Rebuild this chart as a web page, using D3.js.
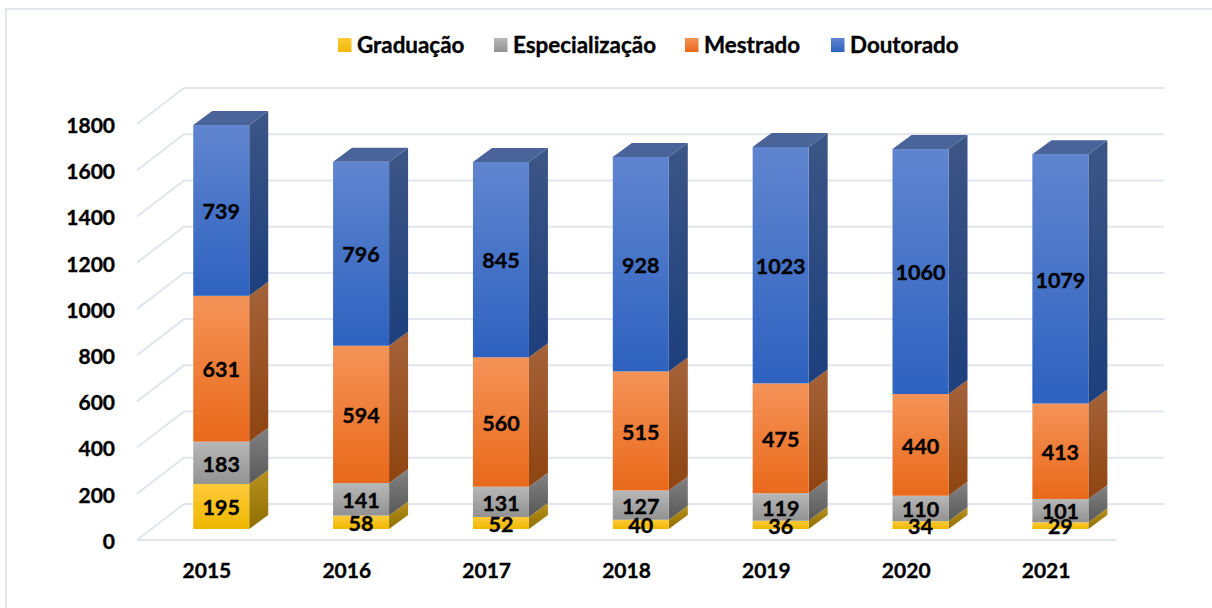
<!DOCTYPE html>
<html>
<head>
<meta charset="utf-8">
<script src="https://cdn.jsdelivr.net/npm/d3@7"></script>
<style>
  html, body { margin: 0; padding: 0; background: #fff; overflow: hidden; }
  text { font-family: Lato, "Open Sans", sans-serif; font-weight: 700; fill: #000; stroke: #000; stroke-width: 0.35px; }
</style>
</head>
<body>
<script>
var anos = ["2015", "2016", "2017", "2018", "2019", "2020", "2021"];
var niveis = ["Graduação", "Especialização", "Mestrado", "Doutorado"];
var graduacao = [195, 58, 52, 40, 36, 34, 29];
var especializacao = [183, 141, 131, 127, 119, 110, 101];
var mestrado = [631, 594, 560, 515, 475, 440, 413];
var doutorado = [739, 796, 845, 928, 1023, 1060, 1079];
var yTicks = [0, 200, 400, 600, 800, 1000, 1200, 1400, 1600, 1800];

var valores = [graduacao, especializacao, mestrado, doutorado];

// face colours per level: front top/bottom, side top/bottom, top face
var cores = [
  { f: ["#ffca3a", "#eeb800"], s: ["#b8921f", "#8f6e00"], t: "#c39a14" },
  { f: ["#b8b8b8", "#929292"], s: ["#828282", "#585858"], t: "#8a8a8a" },
  { f: ["#f49358", "#e9691a"], s: ["#a56239", "#8f4410"], t: "#a3643c" },
  { f: ["#6085cf", "#2e62bf"], s: ["#3c5686", "#1d3f7c"], t: "#4a6499" }
];

var width = 1212, height = 608;
var gridColor = "#e2e6ec";

var svg = d3.select("body").append("svg")
  .attr("width", width).attr("height", height);

var defs = svg.append("defs");
cores.forEach(function (c, i) {
  [["f", c.f], ["s", c.s]].forEach(function (p) {
    var g = defs.append("linearGradient")
      .attr("id", p[0] + i)
      .attr("x1", 0).attr("y1", 0).attr("x2", 0).attr("y2", 1);
    g.append("stop").attr("offset", "0%").attr("stop-color", p[1][0]);
    g.append("stop").attr("offset", "100%").attr("stop-color", p[1][1]);
  });
});

// chart frame, only the top and left edges are in view
svg.append("path")
  .attr("d", "M6,608V9H1212")
  .attr("fill", "none").attr("stroke", "#e4e8ee").attr("stroke-width", 2);

var x = d3.scaleBand().domain(anos).range([137, 1116]);
var y = d3.scaleLinear().domain([0, 1800]).range([540, 124]);

var fundoDx = 47, fundoDy = 36;   // depth of the floor
var barDx = 19, barDy = 14;       // depth of one bar
var barW = 56;
var barOffX = 14.3, barOffY = 11; // front face of bar sits inside the floor

// walls
var grid = svg.append("g").attr("fill", "none")
  .attr("stroke", gridColor).attr("stroke-width", 2);
grid.selectAll("path").data(yTicks).enter().append("path")
  .attr("d", function (d) {
    var yy = y(d);
    var r = "M" + x.range()[0] + "," + yy +
      "L" + (x.range()[0] + fundoDx) + "," + (yy - fundoDy) +
      "H" + (x.range()[1] + fundoDx + 1);
    return r;
  });
grid.append("path")
  .attr("d", "M" + x.range()[0] + "," + y(0) + "H" + x.range()[1]);

// bars
var barras = svg.append("g");
anos.forEach(function (ano, i) {
  var x0 = x(ano) + (x.step() - barW) / 2 + barOffX;
  var acum = 0;
  valores.forEach(function (serie, s) {
    var v = serie[i];
    var yBase = y(acum) - barOffY;
    var yTop = y(acum + v) - barOffY;
    acum += v;
    var g = barras.append("g").attr("class", "seg");
    g.append("polygon")
      .attr("points", [[x0 + barW, yBase], [x0 + barW + barDx, yBase - barDy],
        [x0 + barW + barDx, yTop - barDy], [x0 + barW, yTop]].join(" "))
      .attr("fill", "url(#s" + s + ")");
    g.append("rect")
      .attr("x", x0).attr("y", yTop)
      .attr("width", barW).attr("height", yBase - yTop)
      .attr("fill", "url(#f" + s + ")");
    if (s === valores.length - 1) {
      g.append("polygon")
        .attr("points", [[x0, yTop], [x0 + barDx, yTop - barDy],
          [x0 + barW + barDx, yTop - barDy], [x0 + barW, yTop]].join(" "))
        .attr("fill", cores[s].t);
    }
  });
});

// value labels go over all the bars
var rotulos = svg.append("g").attr("text-anchor", "middle")
  .attr("font-size", 21.5);
anos.forEach(function (ano, i) {
  var x0 = x(ano) + (x.step() - barW) / 2 + barOffX;
  var acum = 0;
  valores.forEach(function (serie) {
    var v = serie[i];
    rotulos.append("text")
      .attr("x", x0 + barW / 2)
      .attr("y", y(acum + v / 2) - barOffY + 1)
      .attr("dy", "0.36em")
      .text(v);
    acum += v;
  });
});

// axes
var eixoY = svg.append("g")
  .attr("transform", "translate(115,0)")
  .call(d3.axisLeft(y).tickValues(yTicks).tickFormat(d3.format("d")).tickSize(0).tickPadding(0));
eixoY.select(".domain").remove();
eixoY.selectAll("text").attr("dy", "0.4em").style("font-size", "21px").style("font-family", null);

var eixoX = svg.append("g")
  .attr("transform", "translate(0,563)")
  .call(d3.axisBottom(x).tickSize(0).tickPadding(0));
eixoX.select(".domain").remove();
eixoX.selectAll("text").style("font-size", "21px").style("font-family", null);

// legend
var legX = [338, 494, 685, 831];
var leg = svg.append("g");
niveis.forEach(function (n, i) {
  var g = leg.append("g").attr("transform", "translate(" + legX[i] + ",38)");
  g.append("rect").attr("width", 13.5).attr("height", 14).attr("fill", "url(#f" + i + ")");
  g.append("text").attr("x", 19).attr("y", 7).attr("dy", "0.36em")
    .attr("font-size", 22.4).text(n);
});
</script>
</body>
</html>
